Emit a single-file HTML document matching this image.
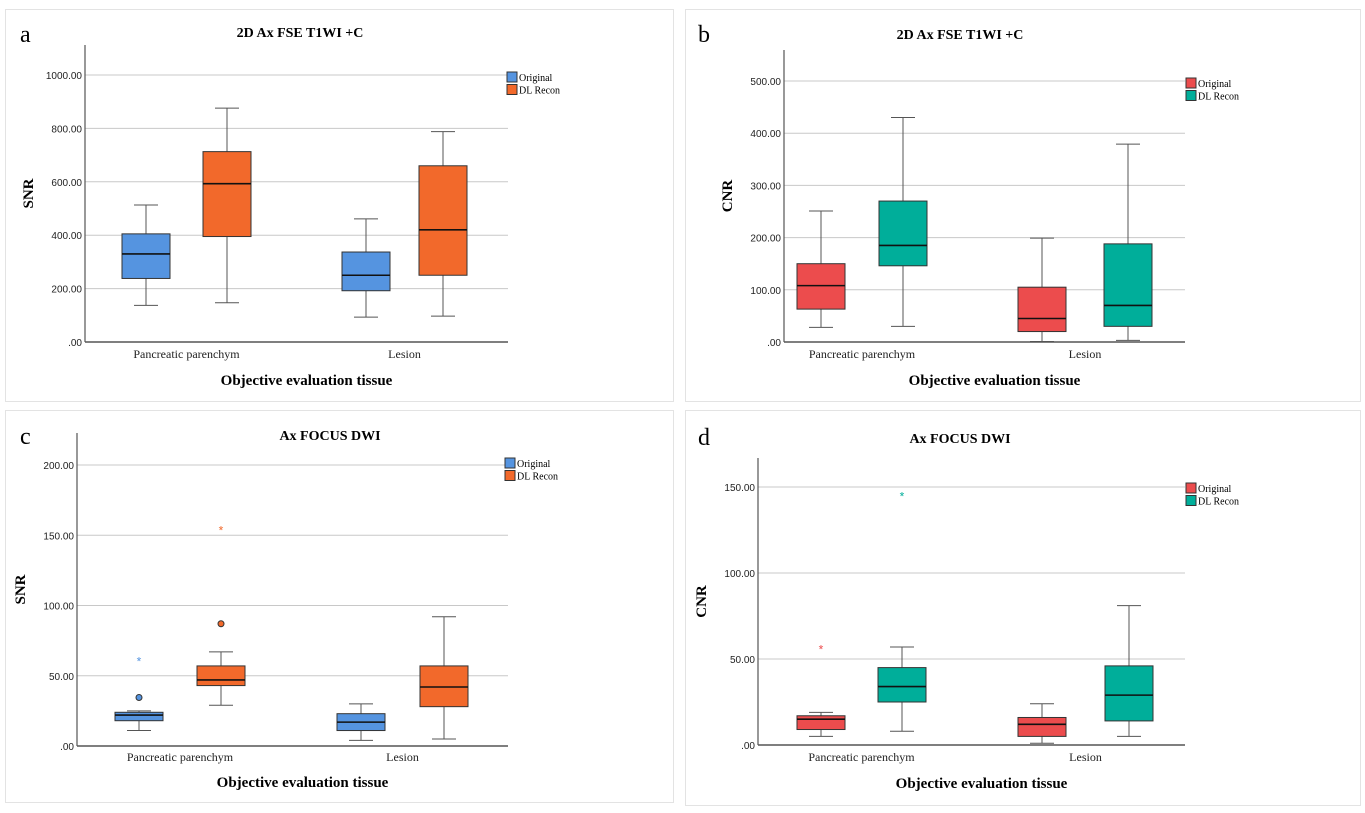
<!DOCTYPE html>
<html><head><meta charset="utf-8"><style>
body{margin:0;background:#fff;}
svg{display:block;font-family:"Liberation Serif",serif;}
</style></head><body>
<svg id="s" width="1365" height="813" viewBox="0 0 1365 813"></svg>
<script>
const groups = ["Pancreatic parenchym","Lesion"];
// [min,q1,median,q3,max] for [group][series]
const aStats = [[[137,238,330,405,513],[147,395,593,713,876]],[[93,192,250,337,461],[97,250,420,660,788]]];
const bStats = [[[28,63,108,150,251],[30,146,185,270,430]],[[1,20,45,105,199],[3,30,70,188,379]]];
const cStats = [[[11,18,22,24,25],[29,43,47,57,67]],[[4,11,17,23,30],[5,28,42,57,92]]];
const dStats = [[[5,9,15,17,19],[8,25,34,45,57]],[[1,5,12,16,24],[5,14,29,46,81]]];
// outliers: [group, series, value, type]
const cOut = [[0,0,34.5,"o"],[0,0,61,"*"],[0,1,87,"o"],[0,1,154,"*"]];
const dOut = [[0,0,56,"*"],[0,1,145,"*"]];
const aTicks=[0,200,400,600,800,1000], bTicks=[0,100,200,300,400,500], cTicks=[0,50,100,150,200], dTicks=[0,50,100,150];
const seriesNames=["Original","DL Recon"];

const NS="http://www.w3.org/2000/svg";
const S=document.getElementById('s');
function mk(tag,at,parent,txt){const e=document.createElementNS(NS,tag);for(const k in at)e.setAttribute(k,at[k]);if(txt!==undefined)e.textContent=txt;(parent||S).appendChild(e);return e;}
function fmt(v){return v===0?".00":v.toFixed(2);}

const panels=[
 {id:"a",stats:aStats,ticks:aTicks,out:[],box:[5,9,668,392],L:85,T:45,B:342,R:508,ymax:1000,yTop:75,cx:[[146,227],[366,443]],cols:["#5594e0","#f2692b"],title:"2D Ax FSE T1WI +C",yl:"SNR",leg:[507,72],tx:300,ty:37,lx:20,ly:42,xly:358,xty:385},
 {id:"b",stats:bStats,ticks:bTicks,out:[],box:[685,9,675,392],L:784,T:50,B:342,R:1185,ymax:500,yTop:81,cx:[[821,903],[1042,1128]],cols:["#ec4c4d","#00ae9a"],title:"2D Ax FSE T1WI +C",yl:"CNR",leg:[1186,78],tx:960,ty:39,lx:698,ly:42,xly:358,xty:385},
 {id:"c",stats:cStats,ticks:cTicks,out:cOut,box:[5,410,668,392],L:77,T:433,B:746,R:508,ymax:200,yTop:465,cx:[[139,221],[361,444]],cols:["#5594e0","#f2692b"],title:"Ax FOCUS DWI",yl:"SNR",leg:[505,458],tx:330,ty:440,lx:20,ly:444,xly:761,xty:787},
 {id:"d",stats:dStats,ticks:dTicks,out:dOut,box:[685,410,675,395],L:758,T:458,B:745,R:1185,ymax:150,yTop:487,cx:[[821,902],[1042,1129]],cols:["#ec4c4d","#00ae9a"],title:"Ax FOCUS DWI",yl:"CNR",leg:[1186,483],tx:960,ty:443,lx:698,ly:445,xly:761,xty:788}
];

panels.forEach(p=>{
  const g=mk('g',{});
  
  
  mk('rect',{x:p.box[0]+.5,y:p.box[1]+.5,width:p.box[2],height:p.box[3],fill:"#fff",stroke:"#e3e3e3"},g);
  const y=v=>p.B-(v/p.ymax)*(p.B-p.yTop);
  p.ticks.forEach(t=>{
    const ln=mk('line',{x1:p.L,x2:p.R,y1:y(t),y2:y(t),stroke:t===0?"#555":"#c8c8c8","stroke-width":t===0?1.5:1},g);
    
    
    const tl=mk('text',{x:p.L-3,y:y(t)+4,"text-anchor":"end","font-size":10,"font-family":"Liberation Sans, sans-serif",fill:"#222"},g,fmt(t));
    
    
  });
  mk('line',{x1:p.L,x2:p.L,y1:p.T,y2:p.B,stroke:"#555","stroke-width":1.2},g);
  const bw=48;
  p.stats.forEach((gr,gi)=>{
    gr.forEach((st,si)=>{
      const c=p.cx[gi][si];
      const bg=mk('g',{},g);
      
      
      mk('line',{x1:c,x2:c,y1:y(st[0]),y2:y(st[1]),stroke:"#555"},bg);
      mk('line',{x1:c,x2:c,y1:y(st[3]),y2:y(st[4]),stroke:"#555"},bg);
      mk('line',{x1:c-12,x2:c+12,y1:y(st[0]),y2:y(st[0]),stroke:"#555"},bg);
      mk('line',{x1:c-12,x2:c+12,y1:y(st[4]),y2:y(st[4]),stroke:"#555"},bg);
      mk('rect',{x:c-bw/2,y:y(st[3]),width:bw,height:y(st[1])-y(st[3]),fill:p.cols[si],stroke:"#333","stroke-width":1},bg);
      mk('line',{x1:c-bw/2,x2:c+bw/2,y1:y(st[2]),y2:y(st[2]),stroke:"#111","stroke-width":1.6},bg);
    });
  });
  p.out.forEach(o=>{
    const c=p.cx[o[0]][o[1]];
    let e;
    if(o[3]==="o") e=mk('circle',{cx:c,cy:y(o[2]),r:3,fill:p.cols[o[1]],stroke:"#333"},g);
    else e=mk('text',{x:c,y:y(o[2])+5,"text-anchor":"middle","font-size":12,fill:p.cols[o[1]],"font-family":"Liberation Sans, sans-serif"},g,"*");
    
    
  });
  groups.forEach((n,gi)=>{
    const t=mk('text',{x:(p.cx[gi][0]+p.cx[gi][1])/2,y:p.xly,"text-anchor":"middle","font-size":12,fill:"#222"},g,n);
    
    
  });
  const xt=mk('text',{x:(p.L+p.R)/2+10,y:p.xty,"text-anchor":"middle","font-size":15,"font-weight":"bold"},g,"Objective evaluation tissue");
  
  
  const yc=(p.T+p.B)/2;
  const yt=mk('text',{x:0,y:0,transform:`translate(${p.L-52},${yc}) rotate(-90)`,"text-anchor":"middle","font-size":15,"font-weight":"bold"},g,p.yl);
  
  
  const tt=mk('text',{x:p.tx,y:p.ty,"text-anchor":"middle","font-size":14,"font-weight":"bold"},g,p.title);
  
  
  const lt=mk('text',{x:p.lx,y:p.ly,"font-size":24},g,p.id);
  
  
  seriesNames.forEach((n,si)=>{
    const lg=mk('g',{},g);
    
    
    mk('rect',{x:p.leg[0],y:p.leg[1]+si*12.5,width:10,height:10,fill:p.cols[si],stroke:"#333"},lg);
    mk('text',{x:p.leg[0]+12,y:p.leg[1]+si*12.5+9,"font-size":10},lg,n);
  });
});
</script>
</body></html>
